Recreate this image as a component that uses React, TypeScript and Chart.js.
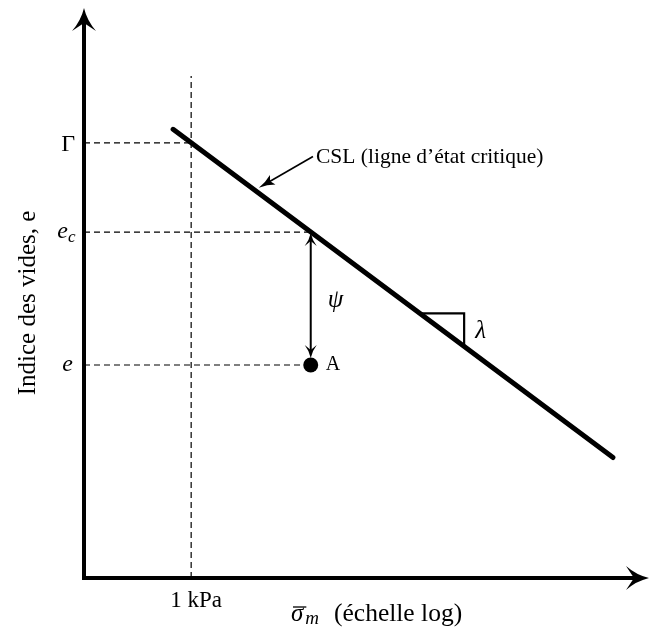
import React, { useEffect, useRef } from "react";
import { Chart, registerables } from "chart.js";

Chart.register(...registerables);

// ---- data (x: log10 of mean effective stress in schematic units, y: void ratio in schematic units)
const cslLogSigma = [1.58, 9.38];
const cslVoidRatio = [7.9, 2.12];
const refLogSigma = 1.9; // 1 kPa
const refLineTop = 8.84;
const levelNames = ["Gamma", "ec", "e"];
const levelValues = [7.66, 6.09, 3.75];
const levelEnds = [1.9, 4.02, 4.02];
const pointA = [4.02, 3.75];
const slopeTriX = [5.95, 6.74, 6.74];
const slopeTriY = [4.66, 4.66, 4.08];
const cslNoteFrom = [4.06, 7.42];
const cslNoteTo = [3.1, 6.87];
const xTickLabel = "1 kPa";
const cslLabel = "CSL (ligne d\u2019\u00e9tat critique)";
const yTitle = "Indice des vides, e";
const xTitleRest = "(\u00e9chelle log)";

const SERIF = "'Liberation Serif', 'Times New Roman', serif";

function arrowHead(
  ctx: CanvasRenderingContext2D,
  x: number,
  y: number,
  angle: number,
  len: number,
  half: number,
  notch: number
) {
  ctx.save();
  ctx.translate(x, y);
  ctx.rotate(angle);
  ctx.beginPath();
  ctx.moveTo(0, 0);
  ctx.quadraticCurveTo(-len * 0.55, -half * 0.25, -len, -half);
  ctx.lineTo(-len + notch, 0);
  ctx.lineTo(-len, half);
  ctx.quadraticCurveTo(-len * 0.55, half * 0.25, 0, 0);
  ctx.closePath();
  ctx.fill();
  ctx.restore();
}

const overlay = {
  id: "overlay",
  afterDatasetsDraw(chart: any) {
    const { ctx, chartArea, scales } = chart;
    const px = (v: number) => scales.x.getPixelForValue(v);
    const py = (v: number) => scales.y.getPixelForValue(v);
    ctx.save();
    ctx.fillStyle = "#000";
    ctx.strokeStyle = "#000";

    // axes
    const x0 = px(0);
    const y0 = py(0);
    ctx.lineWidth = 4;
    ctx.lineCap = "butt";
    ctx.beginPath();
    ctx.moveTo(x0, y0 + 2);
    ctx.lineTo(x0, chartArea.top + 12);
    ctx.moveTo(x0 - 2, y0);
    ctx.lineTo(chartArea.right - 10, y0);
    ctx.stroke();
    arrowHead(ctx, x0, chartArea.top - 2, -Math.PI / 2, 23, 12, 8);
    arrowHead(ctx, chartArea.right + 1, y0, 0, 23, 12, 8);

    // psi double arrow
    const ax = px(pointA[0]);
    const topY = py(levelValues[1]) + 1;
    const botY = py(pointA[1]) - 7;
    ctx.lineWidth = 2;
    ctx.beginPath();
    ctx.moveTo(ax, topY + 6);
    ctx.lineTo(ax, botY - 6);
    ctx.stroke();
    arrowHead(ctx, ax, topY, -Math.PI / 2, 13, 6, 5);
    arrowHead(ctx, ax, botY, Math.PI / 2, 13, 6, 5);

    // CSL annotation arrow
    const fx = px(cslNoteFrom[0]);
    const fy = py(cslNoteFrom[1]);
    const tx = px(cslNoteTo[0]);
    const ty = py(cslNoteTo[1]);
    const ang = Math.atan2(ty - fy, tx - fx);
    ctx.lineWidth = 1.6;
    ctx.beginPath();
    ctx.moveTo(fx, fy);
    ctx.lineTo(tx - Math.cos(ang) * 10, ty - Math.sin(ang) * 10);
    ctx.stroke();
    arrowHead(ctx, tx, ty, ang, 16, 5.5, 3);

    // texts
    ctx.textBaseline = "alphabetic";
    // Gamma
    ctx.font = `24px ${SERIF}`;
    ctx.textAlign = "right";
    ctx.fillText("\u0393", x0 - 9, py(levelValues[0]) + 8);
    // e_c
    ctx.font = `italic 24px ${SERIF}`;
    ctx.fillText("e", x0 - 16, py(levelValues[1]) + 6);
    ctx.textAlign = "left";
    ctx.font = `italic 17px ${SERIF}`;
    ctx.fillText("c", x0 - 16, py(levelValues[1]) + 10);
    // e
    ctx.textAlign = "right";
    ctx.font = `italic 24px ${SERIF}`;
    ctx.fillText("e", x0 - 11, py(levelValues[2]) + 6);

    // 1 kPa
    ctx.textAlign = "center";
    ctx.font = `23px ${SERIF}`;
    ctx.fillText(xTickLabel, px(refLogSigma) + 5, y0 + 29);

    // x title
    ctx.textAlign = "left";
    const bx = 291;
    const by = y0 + 43;
    ctx.font = `italic 25px ${SERIF}`;
    ctx.fillText("\u03c3", bx, by);
    const sw = ctx.measureText("\u03c3").width;
    ctx.lineWidth = 1.3;
    ctx.beginPath();
    ctx.moveTo(bx + 2, by - 14);
    ctx.lineTo(bx + sw + 3, by - 14);
    ctx.stroke();
    ctx.font = `italic 19px ${SERIF}`;
    ctx.fillText("m", bx + sw + 2, by + 3);
    ctx.font = `25.5px ${SERIF}`;
    ctx.fillText(xTitleRest, 334, by);

    // y title
    ctx.save();
    ctx.translate(35, 303);
    ctx.rotate(-Math.PI / 2);
    ctx.textAlign = "center";
    ctx.font = `25px ${SERIF}`;
    ctx.fillText(yTitle, 0, 0);
    ctx.restore();

    // CSL label
    ctx.textAlign = "left";
    ctx.font = `21.5px ${SERIF}`;
    ctx.fillText(cslLabel, fx + 3, fy + 6);

    // psi, lambda, A
    ctx.font = `italic 25px ${SERIF}`;
    ctx.fillText("\u03c8", ax + 17, py((levelValues[1] + pointA[1]) / 2) + 8);
    ctx.fillText("\u03bb", px(slopeTriX[1]) + 11, py((slopeTriY[0] + slopeTriY[2]) / 2) + 8);
    ctx.font = `20px ${SERIF}`;
    ctx.fillText("A", ax + 15, py(pointA[1]) + 5);

    ctx.restore();
  },
};

export default function App() {
  const ref = useRef<HTMLCanvasElement>(null);
  useEffect(() => {
    const dashed = {
      borderColor: "#000",
      borderWidth: 1.2,
      borderDash: [6, 4],
      pointRadius: 0,
      showLine: true,
      fill: false,
    };
    const levelSets = levelNames.map((name, i) => ({
      ...dashed,
      label: name,
      data: [
        { x: 0, y: levelValues[i] },
        { x: levelEnds[i], y: levelValues[i] },
      ],
    }));
    const chart = new Chart(ref.current as HTMLCanvasElement, {
      type: "scatter",
      data: {
        datasets: [
          {
            ...dashed,
            label: "1 kPa",
            data: [
              { x: refLogSigma, y: 0 },
              { x: refLogSigma, y: refLineTop },
            ],
          },
          ...levelSets,
          {
            label: "CSL",
            data: cslLogSigma.map((x, i) => ({ x, y: cslVoidRatio[i] })),
            showLine: true,
            borderColor: "#000",
            borderWidth: 5,
            pointRadius: 0,
            borderCapStyle: "round",
          },
          {
            label: "lambda",
            data: slopeTriX.map((x, i) => ({ x, y: slopeTriY[i] })),
            showLine: true,
            borderColor: "#000",
            borderWidth: 2.2,
            pointRadius: 0,
          },
          {
            label: "A",
            data: [{ x: pointA[0], y: pointA[1] }],
            showLine: false,
            pointRadius: 7.5,
            pointBackgroundColor: "#000",
            pointBorderColor: "#000",
            pointBorderWidth: 0,
          },
        ] as any,
      },
      options: {
        animation: false,
        responsive: false,
        devicePixelRatio: 1,
        events: [],
        layout: {
          autoPadding: false,
          padding: { left: 84, right: 2, top: 10, bottom: 51 },
        },
        scales: {
          x: { type: "linear", min: 0, max: 10, display: false },
          y: { type: "linear", min: 0, max: 10, display: false },
        },
        plugins: {
          legend: { display: false },
          tooltip: { enabled: false },
        },
      },
      plugins: [overlay],
    });
    return () => chart.destroy();
  }, []);
  return (
    <div
      style={{
        position: "fixed",
        left: 0,
        top: 0,
        width: 650,
        height: 629,
        background: "#fff",
      }}
    >
      <canvas ref={ref} width={650} height={629} style={{ display: "block" }} />
    </div>
  );
}
